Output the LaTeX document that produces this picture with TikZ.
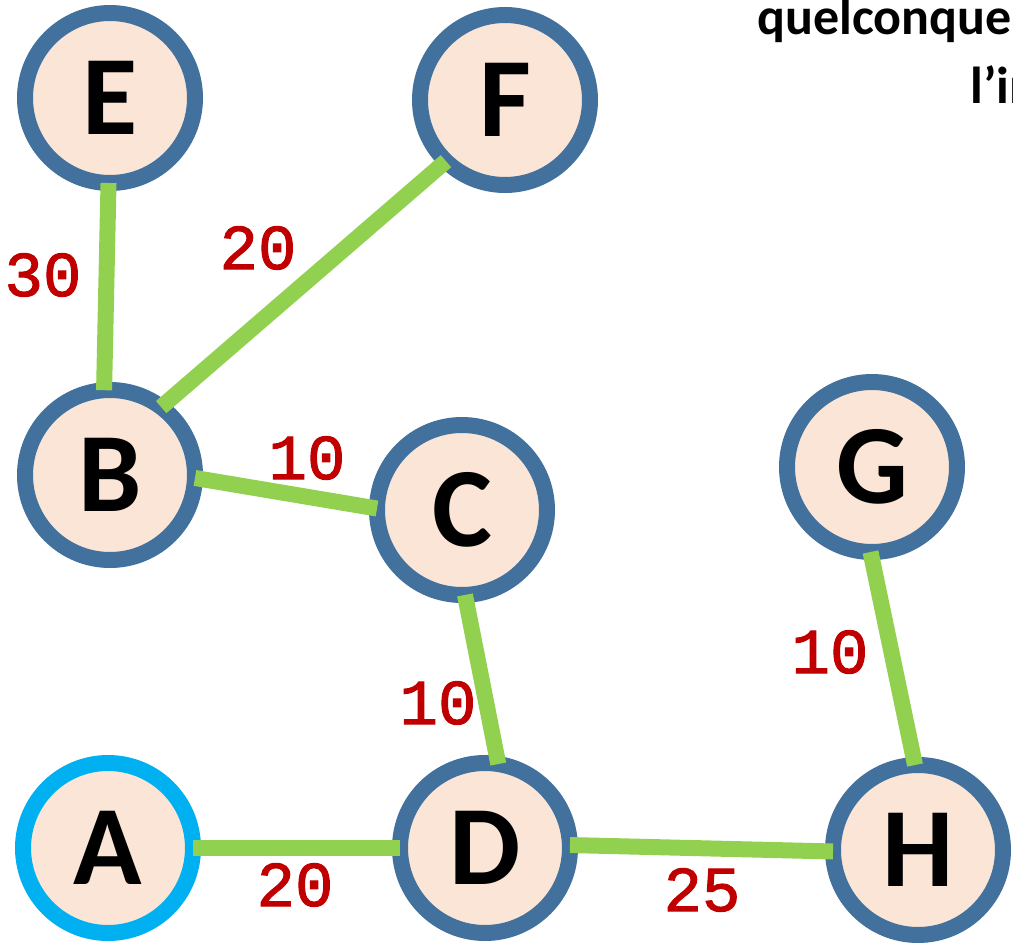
\documentclass[tikz,border=0pt]{standalone}
\usepackage{fontspec}
\setmainfont{Carlito}
\newfontfamily\weightfont[FakeBold=1.6]{Liberation Mono}
\definecolor{ringblue}{HTML}{41719C}
\definecolor{startblue}{HTML}{00B0F0}
\definecolor{nodefill}{HTML}{FBE5D6}
\definecolor{edgegreen}{HTML}{92D050}
\definecolor{weightred}{HTML}{C00000}
\begin{document}
\begin{tikzpicture}[x=1pt,y=-1pt,
  vertex/.style={circle, draw=ringblue, fill=nodefill, line width=16pt,
    minimum size=170pt, inner sep=0pt, outer sep=0pt,
    font=\fontsize{113}{113}\selectfont\bfseries},
  startvertex/.style={vertex, draw=startblue},
  edge/.style={draw=edgegreen, line width=16pt},
  weight/.style={text=weightred, inner sep=0pt,
    font=\weightfont\fontsize{64}{64}\selectfont},
  caption/.style={anchor=base west, inner sep=0pt,
    font=\fontsize{52}{52}\selectfont\bfseries}]
\useasboundingbox (0,0) rectangle (1013,945);

% heading text, running off the right edge
\node[caption] (t1) at (757,34) {quelconque};
\node[caption] (t2) at (970,103) {l’in};

% vertices
\node[vertex] (E) at (110,98) {E};
\node[vertex] (F) at (505,100) {F};
\node[vertex] (B) at (110,475) {B};
\node[vertex] (C) at (462,510) {C};
\node[vertex] (G) at (872,467) {G};
\node[startvertex] (A) at (108,848) {A};
\node[vertex] (D) at (485,848) {D};
\node[vertex] (H) at (918,850) {H};

% edges of the tree
\draw[edge] (E.269) -- (B.94);
\draw[edge] (B.53) -- (F.226);
\draw[edge] (B.358) -- (C.179);
\draw[edge] (C.272) -- (D.81);
\draw[edge] (A.0) -- (D.180);
\draw[edge] (D.2) -- (H.181);
\draw[edge] (G.269) -- (H.92);

% edge weights
\node[weight] (wEB) at (43,275) {30};
\node[weight] (wBF) at (258,248) {20};
\node[weight] (wBC) at (307,458) {10};
\node[weight] (wCD) at (438,703) {10};
\node[weight] (wGH) at (830,652) {10};
\node[weight] (wAD) at (295,885) {20};
\node[weight] (wDH) at (702,890) {25};
\end{tikzpicture}
\end{document}
